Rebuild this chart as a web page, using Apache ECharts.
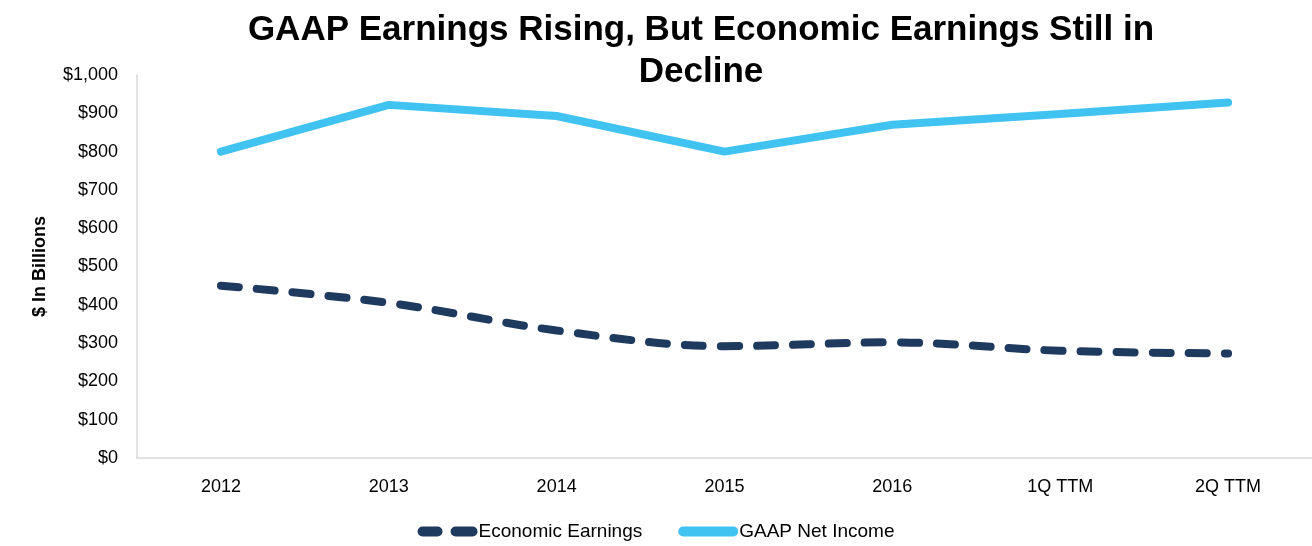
<!DOCTYPE html>
<html>
<head>
<meta charset="utf-8">
<script src="https://cdn.jsdelivr.net/npm/echarts@6/dist/echarts.min.js"></script>
<style>
html,body{margin:0;padding:0;background:#fff;}
#chart{width:1312px;height:546px;}
</style>
</head>
<body>
<div id="chart"></div>
<script>
const categories = ['2012','2013','2014','2015','2016','1Q TTM','2Q TTM'];
const economicEarnings = [450, 405, 333, 292, 302, 280, 273];
const gaapNetIncome = [800, 922, 893, 800, 870, 898, 928];
const yTicks = {min: 0, max: 1000, interval: 100};

const chart = echarts.init(document.getElementById('chart'));
chart.setOption({
  backgroundColor: '#fff',
  title: {
    text: 'GAAP Earnings Rising, But Economic Earnings Still in\nDecline',
    left: 696, top: 4, textAlign: 'center',
    textStyle: {fontFamily: 'Liberation Sans, Arial', fontWeight: 'bold', fontSize: 35, lineHeight: 42, color: '#000'}
  },
  legend: {
    bottom: 0, left: 'center', itemWidth: 60, itemHeight: 10, itemGap: 36,
    textStyle: {fontFamily: 'Liberation Sans, Arial', fontSize: 19, color: '#000', padding: [0,0,0,-4]},
    data: [
      {name: 'Economic Earnings', icon: 'path://M5,0 L20,0 A5,5 0 0 1 20,10 L5,10 A5,5 0 0 1 5,0 Z M38,0 L55,0 A5,5 0 0 1 55,10 L38,10 A5,5 0 0 1 38,0 Z', itemStyle: {color: '#1F3A5F'}},
      {name: 'GAAP Net Income', icon: 'path://M5,0 L55,0 A5,5 0 0 1 55,10 L5,10 A5,5 0 0 1 5,0 Z', itemStyle: {color: '#41C3F2'}}
    ]
  },
  grid: {left: 137, right: 0, top: 75, bottom: 88},
  xAxis: {
    type: 'category', data: categories, boundaryGap: true,
    axisLine: {lineStyle: {color: '#d9d9d9', width: 1.5}},
    axisTick: {show: false},
    axisLabel: {fontFamily: 'Liberation Sans, Arial', fontSize: 18, color: '#000', margin: 20}
  },
  yAxis: {
    type: 'value', min: yTicks.min, max: yTicks.max, interval: yTicks.interval,
    name: '$ In Billions', nameLocation: 'middle', nameGap: 88, nameRotate: 90,
    nameTextStyle: {fontFamily: 'Liberation Sans, Arial', fontWeight: 'bold', fontSize: 18, color: '#000'},
    axisLine: {show: true, lineStyle: {color: '#d9d9d9', width: 1.5}},
    axisTick: {show: false},
    splitLine: {show: false},
    axisLabel: {fontFamily: 'Liberation Sans, Arial', fontSize: 18, color: '#000', margin: 19,
      formatter: v => '$' + v.toLocaleString('en-US')}
  },
  series: [
    {name: 'Economic Earnings', type: 'line', data: economicEarnings, smooth: 0.35,
     showSymbol: false, symbol: 'none',
     lineStyle: {color: '#1F3A5F', width: 8, type: [18, 18], cap: 'round'},
     itemStyle: {color: '#1F3A5F'}},
    {name: 'GAAP Net Income', type: 'line', data: gaapNetIncome, smooth: false,
     showSymbol: false, symbol: 'none',
     lineStyle: {color: '#41C3F2', width: 8, cap: 'round', join: 'round'},
     itemStyle: {color: '#41C3F2'}}
  ],
  animation: false
});
</script>
</body>
</html>
